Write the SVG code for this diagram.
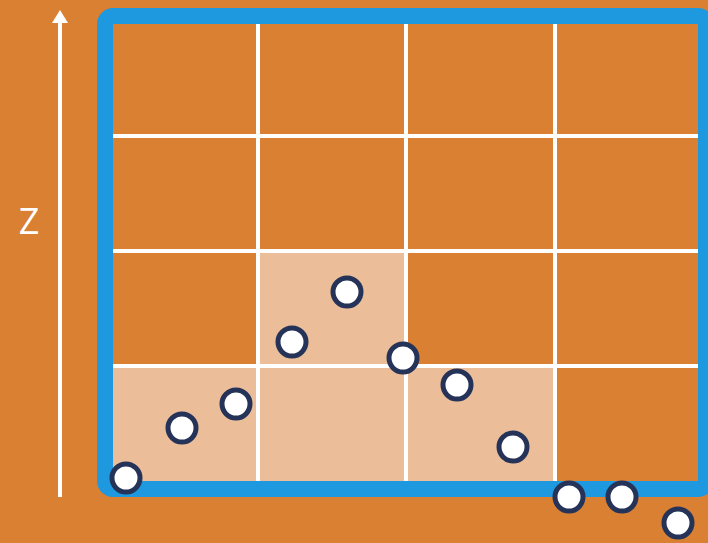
<svg xmlns="http://www.w3.org/2000/svg" width="708" height="543" viewBox="0 0 708 543">
<style>
.grid{stroke:#FFFFFF;stroke-width:4;fill:none}
.pt{fill:#FFFFFF;stroke:#263358;stroke-width:5}
.cell{fill:#EBBE99}
</style>
<defs>
<marker id="ah" viewBox="0 0 13 16" refX="1" refY="8" markerWidth="13" markerHeight="16" markerUnits="userSpaceOnUse" orient="auto">
<path d="M0,0 L13,8 L0,16 Z" fill="#FFFFFF"/>
</marker>
</defs>
<rect width="708" height="543" fill="#D98033"/>
<g id="cells">
<rect class="cell" x="113" y="366" width="145" height="116"/>
<rect class="cell" x="258" y="366" width="148" height="116"/>
<rect class="cell" x="406" y="366" width="149" height="116"/>
<rect class="cell" x="258" y="251" width="148" height="115"/>
</g>
<g id="grid">
<line class="grid" x1="258" y1="20" x2="258" y2="485"/>
<line class="grid" x1="406" y1="20" x2="406" y2="485"/>
<line class="grid" x1="555" y1="20" x2="555" y2="485"/>
<line class="grid" x1="110" y1="136" x2="702" y2="136"/>
<line class="grid" x1="110" y1="251" x2="702" y2="251"/>
<line class="grid" x1="110" y1="366" x2="702" y2="366"/>
</g>
<g id="frame">
<rect x="105" y="16" width="601" height="473" rx="8" fill="none" stroke="#1E98DF" stroke-width="16"/>
</g>
<g id="connectors">
<line x1="60" y1="497" x2="60" y2="22" stroke="#FFFFFF" stroke-width="4" marker-end="url(#ah)"/>
</g>
<g id="axis-label">
<text x="29" y="234" font-family="Open Sans, Liberation Sans, sans-serif" font-size="36" fill="#FFFFFF" text-anchor="middle">Z</text>
</g>
<g id="points">
<circle class="pt" cx="126" cy="478" r="14"/>
<circle class="pt" cx="182" cy="428" r="14"/>
<circle class="pt" cx="236" cy="404" r="14"/>
<circle class="pt" cx="292" cy="342" r="14"/>
<circle class="pt" cx="347" cy="292" r="14"/>
<circle class="pt" cx="403" cy="358" r="14"/>
<circle class="pt" cx="457" cy="385" r="14"/>
<circle class="pt" cx="513" cy="447" r="14"/>
<circle class="pt" cx="569" cy="497" r="14"/>
<circle class="pt" cx="622" cy="497" r="14"/>
<circle class="pt" cx="678" cy="523" r="14"/>
</g>
</svg>
